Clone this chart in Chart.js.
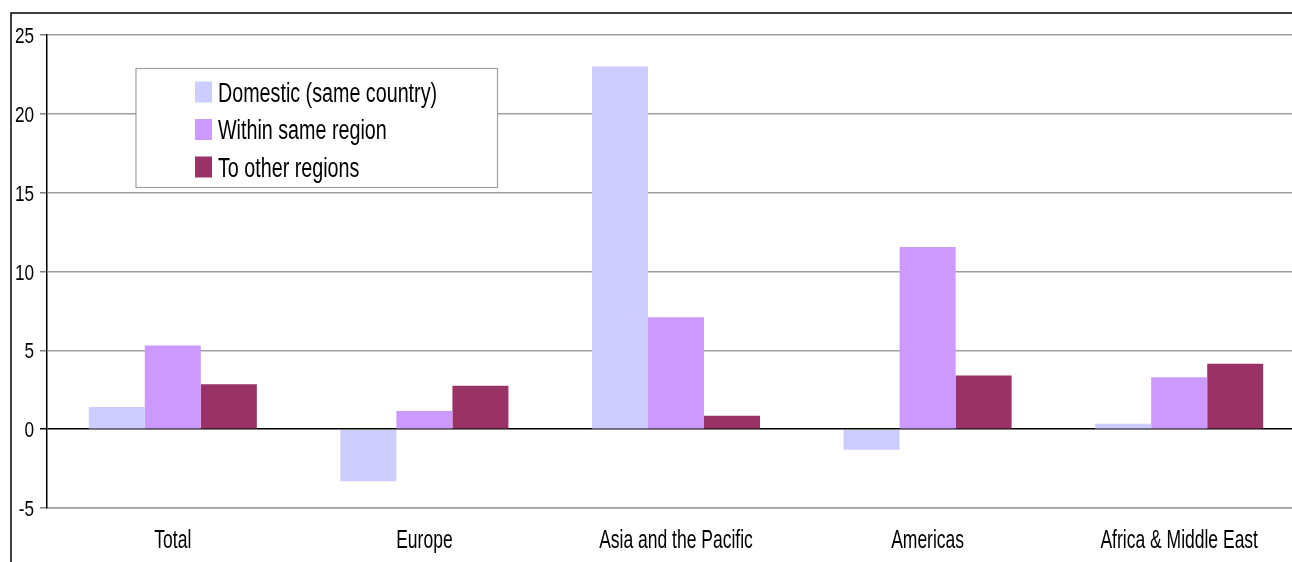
<!DOCTYPE html>
<html>
<head>
<meta charset="utf-8">
<script src="https://cdn.jsdelivr.net/npm/chart.js@4"></script>
<style>
  html, body { margin: 0; padding: 0; background: #fff; overflow: hidden; width: 1292px; height: 562px; }
  #wrap { position: absolute; left: 0; top: 0; width: 1305px; height: 562px; }
</style>
</head>
<body>
<div id="wrap"><canvas id="c" width="1305" height="562"></canvas></div>
<script>
const categories = ["Total", "Europe", "Asia and the Pacific", "Americas", "Africa & Middle East"];
const domestic = [1.4, -3.3, 23.0, -1.3, 0.35];
const withinRegion = [5.3, 1.15, 7.1, 11.55, 3.3];
const otherRegions = [2.85, 2.75, 0.85, 3.4, 4.15];
const seriesNames = ["Domestic (same country)", "Within same region", "To other regions"];
const yTicks = [-5, 0, 5, 10, 15, 20, 25];

const FONT = "'Liberation Sans', Arial, sans-serif";

// draw horizontally condensed text (narrow font look)
function narrowText(ctx, text, x, y, size, sx, align) {
  ctx.save();
  ctx.font = size + "px " + FONT;
  ctx.textBaseline = 'alphabetic';
  ctx.textAlign = 'left';
  const w = ctx.measureText(text).width * sx;
  let x0 = x;
  if (align === 'center') x0 = x - w / 2;
  else if (align === 'right') x0 = x - w;
  ctx.translate(x0, y);
  ctx.scale(sx, 1);
  ctx.fillStyle = '#000';
  ctx.fillText(text, 0, 0);
  ctx.restore();
}

const framePlugin = {
  id: 'frame',
  afterDraw(chart) {
    const ctx = chart.ctx;
    ctx.save();
    ctx.strokeStyle = '#000';
    ctx.lineWidth = 1.5;
    ctx.beginPath();
    ctx.moveTo(11, 562);
    ctx.lineTo(11, 13);
    ctx.lineTo(1305, 13);
    ctx.stroke();
    ctx.restore();
  }
};

const labelsPlugin = {
  id: 'narrowLabels',
  afterDraw(chart) {
    const ctx = chart.ctx;
    const ys = chart.scales.y, xs = chart.scales.x;
    yTicks.forEach(v => {
      narrowText(ctx, String(v), 34, ys.getPixelForValue(v) + 8, 22, 0.78, 'right');
    });
    categories.forEach((c, i) => {
      narrowText(ctx, c, xs.getPixelForTick(i), 548, 25, 0.70, 'center');
    });
  }
};

const legendPlugin = {
  id: 'boxLegend',
  afterDraw(chart) {
    const ctx = chart.ctx;
    ctx.save();
    ctx.fillStyle = '#fff';
    ctx.fillRect(136, 68, 361, 120);
    ctx.strokeStyle = '#A0A0A0';
    ctx.lineWidth = 1.2;
    ctx.strokeRect(136, 68.5, 361.5, 119);
    ctx.restore();
    chart.data.datasets.forEach((ds, i) => {
      const base = 101.5 + i * 37.5;
      ctx.save();
      ctx.fillStyle = ds.backgroundColor;
      ctx.fillRect(195, base - 20, 17, 21);
      ctx.restore();
      narrowText(ctx, ds.label, 218, base, 27, 0.73, 'left');
    });
  }
};

new Chart(document.getElementById('c'), {
  type: 'bar',
  data: {
    labels: categories,
    datasets: [
      { label: seriesNames[0], data: domestic, backgroundColor: '#CCCCFF' },
      { label: seriesNames[1], data: withinRegion, backgroundColor: '#CC99FF' },
      { label: seriesNames[2], data: otherRegions, backgroundColor: '#993366' }
    ]
  },
  options: {
    responsive: false,
    animation: false,
    events: [],
    layout: { padding: { left: 0, right: 0, top: 35, bottom: 0 } },
    datasets: { bar: { barPercentage: 1.0, categoryPercentage: 0.668 } },
    plugins: { legend: { display: false }, tooltip: { enabled: false }, title: { display: false } },
    scales: {
      x: {
        grid: { display: false, drawTicks: false },
        border: { display: true, color: '#A0A0A0', width: 1.5 },
        ticks: { display: false },
        afterFit(scale) { scale.height = 54; }
      },
      y: {
        min: -5, max: 25,
        afterBuildTicks(scale) { scale.ticks = yTicks.map(v => ({ value: v })); },
        grid: {
          color: ctx => (ctx.tick && ctx.tick.value === 0) ? '#000' : '#A0A0A0',
          lineWidth: 1.5,
          tickColor: ctx => (ctx.tick && ctx.tick.value === 0) ? '#000' : '#808080',
          tickLength: 7,
          drawTicks: true
        },
        border: { display: true, color: '#000', width: 1.5 },
        ticks: { display: false },
        afterFit(scale) { scale.width = 47; }
      }
    }
  },
  plugins: [framePlugin, labelsPlugin, legendPlugin]
});
</script>
</body>
</html>
